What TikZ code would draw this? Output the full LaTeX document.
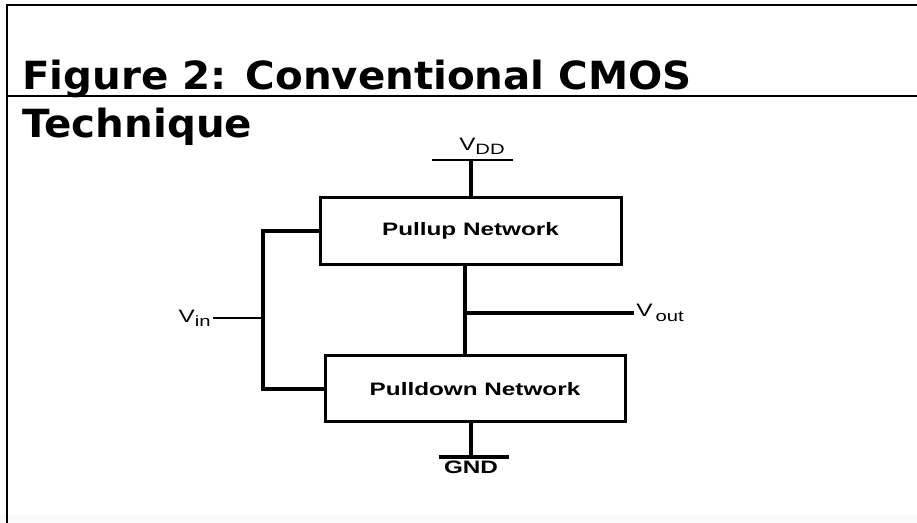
\documentclass[tikz,border=0pt]{standalone}
\usepackage{fontspec}
\setmainfont{Liberation Sans}
\newfontfamily\titlefont[FakeStretch=1.04]{DejaVu Sans}
\newfontfamily\netfont[FakeStretch=1.35]{Liberation Sans}
\newcommand\lowidx[1]{\raisebox{-0.45ex}{\fontsize{7.5}{9}\selectfont #1}}

\begin{document}
\begin{tikzpicture}[x=0.5pt, y=-0.5pt,
        netbox/.style={draw, line width=1.5pt, inner sep=0pt, font=\netfont\fontsize{9}{11}\selectfont\bfseries},
        wire/.style={line width=1.6pt},
        thinwire/.style={line width=1pt},
        lbl/.style={inner sep=1pt, font=\netfont\fontsize{9}{11}\selectfont}]
        \useasboundingbox (0,0) rectangle (917,523);
        \fill[gray!5] (0,515) rectangle (917,523);

        % frame and title
        \draw[line width=1pt] (917,5) -- (7,5) -- (7,523);
        \draw[line width=0.7pt] (7,96) -- (917,96);
        \node[anchor=base west, inner sep=0pt, font=\titlefont\fontsize{19.4}{23}\selectfont\bfseries] (title1) at (22,90) {Figure 2: Conventional CMOS};
        \node[anchor=base west, inner sep=0pt, font=\titlefont\fontsize{19.4}{23}\selectfont\bfseries] (title2) at (22,138) {Technique};

        % networks
        \node[netbox, minimum width=150.5pt, minimum height=33.5pt] (pullup) at (470.5,231) {Pullup Network};
        \node[netbox, minimum width=150pt, minimum height=33pt] (pulldown) at (475,389) {Pulldown Network};

        % supply
        \coordinate (vddtap) at (471,160);
        \coordinate (vddL) at (432,160);
        \coordinate (vddR) at (513,160);
        \node[lbl, anchor=south] (vdd) at (482,157) {V\lowidx{DD}};
        \draw[thinwire] (vddL) -- (vddR);
        \draw[wire] (vddtap) -- (vddtap |- pullup.north);

        % ground
        \coordinate (gndtap) at (471,457);
        \coordinate (gndL) at (439,457);
        \coordinate (gndR) at (509,457);
        \node[lbl, anchor=north, font=\netfont\fontsize{9}{11}\selectfont\bfseries] (gnd) at (471,459) {GND};
        \draw[wire] (gndtap |- pulldown.south) -- (gndtap);
        \draw[wire] (gndL) -- (gndR);

        % input bus
        \coordinate (bus) at (263,318);
        \node[lbl, anchor=east] (vin) at (213,318) {V\lowidx{in}};
        \draw[thinwire] (vin) -- (bus);
        \draw[wire] (pullup.west) -| (bus) |- (pulldown.west);

        % output node
        \coordinate (mid) at (465,313);
        \node[lbl, anchor=west] (vout) at (634,313) {V\,\lowidx{out}};
        \draw[wire] (mid |- pullup.south) -- (mid |- pulldown.north);
        \draw[wire] (mid) -- (vout);
\end{tikzpicture}
\end{document}
